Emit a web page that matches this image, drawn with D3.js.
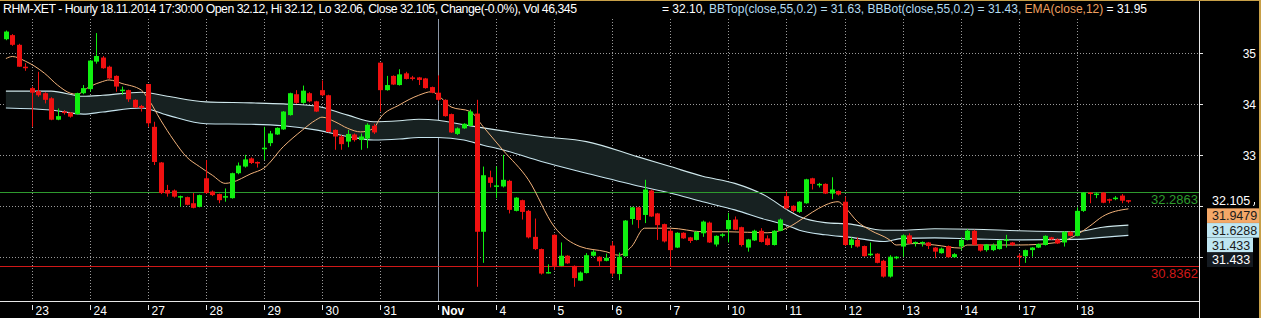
<!DOCTYPE html>
<html>
<head>
<meta charset="utf-8">
<script src="https://cdn.jsdelivr.net/npm/d3@7"></script>
<style>
body { margin: 0; background: #000; }
svg { display: block; font-family: "Liberation Sans", Arial, sans-serif; }
</style>
</head>
<body>
<svg id="chart" width="1261" height="318"></svg>
<script>
// hourly bars, RHM-XET, 22 Oct (partial) .. 18 Nov 2014
const barOpen = [35.28,35.36,35.17,34.74,34.32,34.26,34.22,34.12,33.70,33.86,33.84,33.81,34.22,34.30,34.84,34.92,34.74,34.56,34.26,34.28,
  34.09,33.97,34.40,33.56,32.86,32.32,32.31,32.18,32.18,32.06,31.99,32.55,32.29,32.24,32.17,32.16,32.65,32.78,32.94,32.87,
  33.12,33.24,33.41,33.51,33.79,34.20,34.03,34.22,34.06,34.28,34.18,33.50,33.37,33.27,33.41,33.30,33.33,33.58,34.82,34.28,
  34.56,34.38,34.61,34.53,34.53,34.51,34.34,34.23,34.09,33.81,33.42,33.53,33.58,33.82,31.50,32.57,32.39,32.39,32.50,31.91,
  32.12,31.91,31.40,31.16,30.69,31.44,30.83,31.03,30.83,30.54,30.69,31.03,31.01,30.93,31.23,30.67,31.02,31.75,31.98,31.83,
  32.31,31.86,31.65,31.52,31.19,31.48,31.39,31.34,31.47,31.68,31.25,31.42,31.55,31.74,31.59,31.19,31.33,31.52,31.37,31.24,
  31.52,32.20,32.01,31.89,32.06,32.55,32.42,32.44,32.25,32.30,32.09,31.24,31.34,31.22,31.04,31.07,30.93,30.62,30.98,31.21,
  31.43,31.27,31.29,31.29,31.19,31.08,31.22,31.00,31.21,31.34,31.52,31.25,31.14,31.14,31.16,31.32,31.29,31.03,31.02,31.14,
  31.19,31.24,31.39,31.35,31.29,31.50,31.42,31.91,32.27,32.23,32.27,32.14,32.15,32.21,32.12];
const barHigh = [35.45,35.38,35.19,34.81,34.35,34.64,34.24,34.14,33.92,33.89,33.85,34.23,34.38,34.87,35.40,34.95,34.76,34.57,34.35,34.29,
  34.10,33.99,34.40,33.66,32.87,32.42,32.33,32.21,32.19,32.26,32.23,32.91,32.31,32.25,32.35,32.66,32.86,33.01,32.96,32.88,
  33.56,33.48,33.55,33.87,34.23,34.28,34.37,34.24,34.07,34.47,34.19,33.51,33.40,33.50,33.43,33.43,33.63,33.62,34.82,34.56,
  34.57,34.69,34.64,34.56,34.54,34.52,34.35,34.57,34.10,33.82,33.55,33.63,33.90,34.09,32.78,32.70,32.78,33.01,32.52,32.18,
  32.13,31.93,31.76,31.17,30.86,31.45,31.29,31.04,30.84,30.72,31.08,31.14,31.02,31.07,31.31,31.09,31.73,31.99,31.99,32.52,
  32.33,31.87,31.66,31.55,31.49,31.49,31.40,31.51,31.72,31.70,31.43,31.47,31.87,31.80,31.60,31.36,31.54,31.57,31.43,31.53,
  31.76,32.29,32.02,32.10,32.54,32.56,32.46,32.45,32.57,32.31,32.19,31.39,31.39,31.23,31.29,31.08,30.95,31.04,31.02,31.45,
  31.47,31.31,31.31,31.30,31.20,31.19,31.23,31.08,31.39,31.55,31.54,31.26,31.26,31.27,31.34,31.44,31.30,31.07,31.15,31.20,
  31.27,31.43,31.40,31.37,31.51,31.51,31.98,32.28,32.28,32.27,32.28,32.15,32.20,32.24,32.12];
const barLow = [35.26,35.15,34.74,34.66,33.56,34.15,34.02,33.69,33.69,33.80,33.74,33.80,34.20,34.25,34.80,34.70,34.50,34.25,34.19,34.05,
  33.93,33.86,33.56,32.81,32.24,32.19,32.17,31.99,32.02,31.96,31.98,32.25,32.20,32.06,32.09,32.15,32.63,32.76,32.83,32.76,
  32.91,33.18,33.40,33.50,33.78,34.01,34.01,34.04,33.85,34.16,33.45,33.11,33.11,33.16,33.27,33.11,33.14,33.42,33.86,34.27,
  34.38,34.37,34.49,34.47,34.38,34.31,34.22,34.07,33.76,33.44,33.40,33.52,33.57,30.42,30.89,32.37,32.16,32.37,31.86,31.90,
  31.74,31.37,31.14,30.66,30.68,30.75,30.82,30.87,30.42,30.53,30.68,31.01,30.83,30.92,30.62,30.55,31.01,31.64,31.57,31.67,
  31.79,31.34,31.29,30.82,31.18,31.36,31.28,31.33,31.40,31.28,31.21,31.39,31.29,31.53,31.21,31.11,31.32,31.29,31.23,31.23,
  31.51,31.94,31.88,31.87,32.05,32.33,32.37,32.24,32.14,32.21,31.22,31.18,31.19,31.01,31.02,30.88,30.60,30.60,30.96,31.01,
  31.26,31.21,31.21,31.16,30.98,31.07,30.99,30.99,31.14,31.33,31.23,31.11,31.11,31.12,31.15,31.19,31.22,30.85,30.89,31.01,
  31.18,31.23,31.34,31.26,31.21,31.41,31.41,31.89,32.06,32.16,32.06,32.06,32.12,32.06,32.06];
const barClose = [35.43,35.17,34.74,34.72,34.23,34.18,34.09,33.70,33.77,33.83,33.76,34.22,34.32,34.86,34.95,34.71,34.51,34.35,34.29,34.10,
  33.94,33.93,33.63,32.87,32.26,32.25,32.19,32.20,32.03,31.97,32.22,32.26,32.22,32.12,32.20,32.65,32.80,32.92,32.85,32.84,
  33.15,33.43,33.54,33.86,34.22,34.03,34.27,34.06,33.86,34.18,33.46,33.37,33.22,33.42,33.30,33.37,33.60,33.45,34.28,34.38,
  34.39,34.59,34.50,34.50,34.48,34.32,34.23,34.09,33.77,33.45,33.53,33.62,33.86,31.50,32.61,32.46,32.41,32.52,31.93,32.17,
  31.89,31.39,31.16,30.68,30.71,30.83,31.03,30.88,30.59,30.70,31.04,31.11,30.92,30.99,30.68,31.01,31.72,31.98,31.73,32.33,
  31.80,31.63,31.31,31.14,31.48,31.37,31.32,31.50,31.70,31.29,31.42,31.45,31.73,31.54,31.24,31.35,31.52,31.30,31.24,31.52,
  31.74,31.96,31.91,32.09,32.53,32.44,32.44,32.25,32.33,32.23,31.24,31.35,31.21,31.02,31.07,30.89,30.62,31.01,31.01,31.43,
  31.27,31.30,31.30,31.22,31.11,31.17,31.00,31.06,31.34,31.52,31.24,31.13,31.25,31.24,31.33,31.35,31.24,31.01,31.14,31.19,
  31.26,31.42,31.35,31.27,31.50,31.42,31.91,32.27,32.25,32.25,32.07,32.11,32.17,32.11,32.105];

// Bollinger band (close,55,0.2) and EMA(close,12) at these bars
const bbBar = [0,7,12,15,21,25,31,38,43,48,53,57,61,64,67,71,74,77,83,90,98,103,108,113,118,121,123,127,131,136,139,144,150,157,166,170,174];
const bbTop = [34.26,34.26,34.16,34.18,34.24,34.16,34.05,34.03,34.01,33.97,33.79,33.66,33.68,33.71,33.69,33.60,33.54,33.48,33.37,33.27,
  32.97,32.78,32.59,32.45,32.19,31.94,31.80,31.68,31.65,31.53,31.53,31.56,31.55,31.52,31.50,31.59,31.63];
const bbBot = [33.93,33.89,33.81,33.85,33.93,33.79,33.62,33.61,33.58,33.50,33.37,33.30,33.32,33.35,33.35,33.30,33.20,33.11,32.88,32.65,
  32.40,32.26,32.09,31.93,31.73,31.63,31.53,31.44,31.39,31.31,31.37,31.38,31.36,31.34,31.35,31.39,31.43];
const emaBar = [0,1,3,6,8,10,11,13,15,16,18,21,22,24,26,28,30,32,34,35,38,40,43,46,48,49,51,53,55,57,58,61,64,66,67,69,72,74,77,81,
  85,89,93,95,97,99,103,108,112,118,121,124,126,129,130,132,134,137,138,141,144,148,149,157,163,166,168,170,174];
const ema = [34.90,34.94,34.85,34.61,34.38,34.22,34.20,34.35,34.45,34.48,34.41,34.28,34.12,33.69,33.30,32.97,32.78,32.61,32.45,32.47,
  32.64,32.75,33.17,33.50,33.69,33.75,33.66,33.53,33.46,33.53,33.73,33.99,34.18,34.25,34.18,33.95,33.86,33.56,33.11,32.52,
  31.60,31.21,31.11,31.04,31.21,31.57,31.57,31.50,31.50,31.48,31.57,31.80,31.96,32.09,31.99,31.70,31.53,31.34,31.24,31.27,
  31.24,31.18,31.24,31.24,31.29,31.44,31.61,31.80,31.95];

const dayLabels = ["23","24","27","28","29","30","31","Nov","4","5","6","7","10","11","12","13","14","17","18"];
const firstDayBar = 4, barsPerDay = 9;
const yTicks = [35,34,33,32,31];
const yLabels = [35,34,33];
const levels = [32.2863, 30.8362];
const lastLabels = ["32.105","31.9479","31.6288","31.433","31.433"];
const lastValues = [32.105, 31.9479, 31.6288, 31.433, 31.433];

const W = 1261, H = 318, axisX = 1199, plotTop = 19, plotBottom = 301;
const svg = d3.select("#chart");

svg.append("rect").attr("width", W).attr("height", H).attr("fill", "#000");

const x = d3.scaleLinear().domain([0, 174]).range([5.9, 5.9 + 6.451 * 174]);
const y = d3.scaleLinear().domain([30.141, 35.657]).range([plotBottom, 20]);

// grid
const days = dayLabels.map((d, k) => ({label: d, bar: firstDayBar + k * barsPerDay}));
svg.append("g").selectAll("line").data(days).join("line")
  .attr("x1", d => Math.round(x(d.bar)) + 0.5).attr("x2", d => Math.round(x(d.bar)) + 0.5)
  .attr("y1", plotTop).attr("y2", plotBottom)
  .attr("stroke", d => d.label == "Nov" ? "#8c98a8" : "#9a9a9a")
  .attr("stroke-dasharray", d => d.label == "Nov" ? null : "1,2");

svg.append("g").selectAll("line").data(yTicks).join("line")
  .attr("x1", 0).attr("x2", axisX)
  .attr("y1", d => Math.round(y(d)) + 0.5).attr("y2", d => Math.round(y(d)) + 0.5)
  .attr("stroke", "#9a9a9a").attr("stroke-dasharray", "1,2");

// bollinger band
const bb = bbBar.map((b, k) => ({b, t: bbTop[k], l: bbBot[k]}));
svg.append("path").datum(bb)
  .attr("fill", "#172121")
  .attr("d", d3.area().x(d => x(d.b)).y0(d => y(d.l)).y1(d => y(d.t)).curve(d3.curveMonotoneX));
svg.append("path").datum(bb).attr("fill", "none").attr("stroke", "#cfe8ec").attr("stroke-width", 1.1)
  .attr("d", d3.line().x(d => x(d.b)).y(d => y(d.t)).curve(d3.curveMonotoneX));
svg.append("path").datum(bb).attr("fill", "none").attr("stroke", "#c6e4ee").attr("stroke-width", 1.1)
  .attr("d", d3.line().x(d => x(d.b)).y(d => y(d.l)).curve(d3.curveMonotoneX));

// level lines
const levelColor = ["#2e9a2e", "#d01818"];
svg.append("g").selectAll("line").data(levels).join("line")
  .attr("x1", 0).attr("x2", axisX)
  .attr("y1", d => Math.round(y(d)) + 0.5).attr("y2", d => Math.round(y(d)) + 0.5)
  .attr("stroke", (d, i) => levelColor[i]);
svg.append("g").selectAll("text").data(levels).join("text")
  .attr("x", axisX - 1).attr("y", d => y(d) + 12)
  .attr("text-anchor", "end").attr("font-size", 13)
  .attr("fill", (d, i) => levelColor[i])
  .text(d => d.toFixed(4));

// EMA
svg.append("path").datum(emaBar.map((b, k) => [b, ema[k]]))
  .attr("fill", "none").attr("stroke", "#f2b27a").attr("stroke-width", 1)
  .attr("d", d3.line().x(d => x(d[0])).y(d => y(d[1])).curve(d3.curveMonotoneX));

// candles
const bars = d3.range(barOpen.length).map(i => ({i, o: barOpen[i], h: barHigh[i], l: barLow[i], c: barClose[i]}));
const col = d => d.c >= d.o ? "#10f010" : "#f01010";
const cg = svg.append("g");
cg.selectAll("line").data(bars).join("line")
  .attr("x1", d => Math.round(x(d.i)) + 0.5).attr("x2", d => Math.round(x(d.i)) + 0.5)
  .attr("y1", d => y(d.h)).attr("y2", d => y(d.l))
  .attr("stroke", col);
cg.selectAll("rect").data(bars).join("rect")
  .attr("x", d => Math.round(x(d.i)) - 2).attr("width", 5)
  .attr("y", d => y(Math.max(d.o, d.c)))
  .attr("height", d => Math.max(1.5, Math.abs(y(d.o) - y(d.c))))
  .attr("fill", col);

// right axis
svg.append("line").attr("x1", axisX + 0.5).attr("x2", axisX + 0.5).attr("y1", 0).attr("y2", H)
  .attr("stroke", "#e8e8e8");
svg.append("g").selectAll("line").data(yTicks).join("line")
  .attr("x1", axisX).attr("x2", axisX + 4)
  .attr("y1", d => Math.round(y(d)) + 0.5).attr("y2", d => Math.round(y(d)) + 0.5)
  .attr("stroke", "#e8e8e8");
svg.append("g").selectAll("text").data(yLabels).join("text")
  .attr("x", 1256).attr("y", d => y(d) + 4.5)
  .attr("text-anchor", "end").attr("font-size", 12).attr("fill", "#fff")
  .text(d => d);

// last value boxes, stacked so they do not overlap
const boxFill = [null, "#f4a868", "#bfe6f2", "#bfe6f2", "#141a20"];
const boxText = ["#fff", "#1a1a1a", "#1a1a1a", "#1a1a1a", "#fff"];
let prev = -100;
const lab = svg.append("g");
lastValues.forEach((v, k) => {
  const cy = Math.max(y(v), prev + 14.7);
  prev = cy;
  const w = lastLabels[k].length > 6 ? 53 : 46;
  if (boxFill[k]) lab.append("rect").attr("x", 1207).attr("y", cy - 7.3).attr("width", w).attr("height", 14.6).attr("fill", boxFill[k]);
  lab.append("text").attr("x", 1212).attr("y", cy + 4.5).attr("font-size", 12.5).attr("fill", boxText[k]).text(lastLabels[k]);
});
lab.append("path").attr("d", "M1254.5,202v2l-1,2").attr("stroke", "#fff").attr("fill", "none");

// bottom axis
svg.append("line").attr("x1", 0).attr("x2", axisX).attr("y1", plotBottom + 0.5).attr("y2", plotBottom + 0.5).attr("stroke", "#e8e8e8");
const xa = svg.append("g").selectAll("g").data(days).join("g")
  .attr("transform", d => `translate(${Math.round(x(d.bar)) + 0.5},0)`);
xa.append("line").attr("y1", plotBottom + 4).attr("y2", plotBottom + 9).attr("stroke", "#e8e8e8");
xa.append("text").attr("x", 3).attr("y", 315).attr("font-size", 12).attr("fill", "#fff")
  .attr("font-weight", d => d.label == "Nov" ? "bold" : null)
  .text(d => d.label);

// header
svg.append("rect").attr("width", axisX).attr("height", plotTop).attr("fill", "#000");
svg.append("text").attr("x", 3).attr("y", 13).attr("font-size", 12.3).attr("fill", "#fff")
  .attr("textLength", 574).attr("lengthAdjust", "spacing")
  .text("RHM-XET - Hourly 18.11.2014 17:30:00 Open 32.12, Hi 32.12, Lo 32.06, Close 32.105, Change(-0.0%), Vol 46,345");
const t2 = svg.append("text").attr("x", 662).attr("y", 13).attr("font-size", 12).attr("fill", "#fff");
t2.append("tspan").text("= 32.10, ");
t2.append("tspan").attr("fill", "#b4dcf0").text("BBTop(close,55,0.2) = 31.63, BBBot(close,55,0.2) = 31.43, ");
t2.append("tspan").attr("fill", "#f0a060").text("EMA(close,12)");
t2.append("tspan").text(" = 31.95");

// frame
svg.append("line").attr("x1", 0).attr("x2", W).attr("y1", 0.5).attr("y2", 0.5).attr("stroke", "#c8a048");
svg.append("rect").attr("x", W - 2).attr("y", 0).attr("width", 2).attr("height", H).attr("fill", "#c8a048");
</script>
</body>
</html>
